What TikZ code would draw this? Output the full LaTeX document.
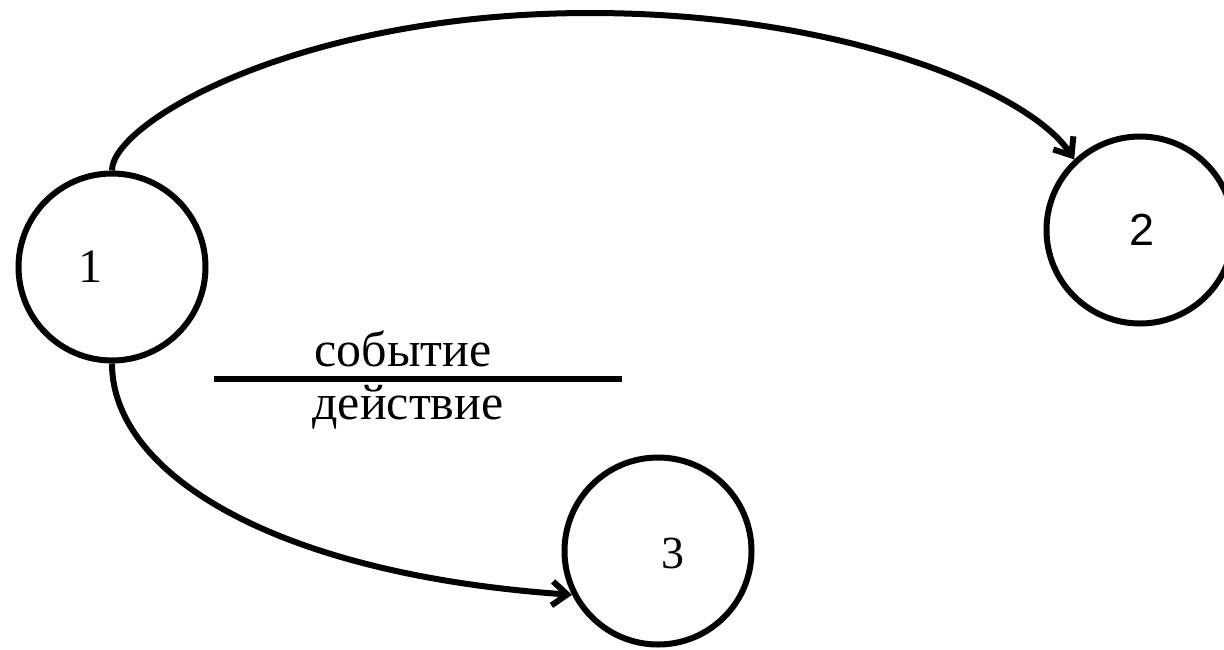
\documentclass[tikz,border=0pt]{standalone}
\usepackage{fontspec}
\setmainfont{Liberation Serif}
\newfontfamily\digsans{Liberation Sans}
\usetikzlibrary{arrows.meta}
\begin{document}
\begin{tikzpicture}[x=1pt,y=-1pt,
  state/.style={circle,draw=black,line width=6pt,minimum size=187pt,inner sep=0pt},
  numlabel/.style={font=\fontsize{48}{52}\selectfont,inner sep=0pt},
  wordlabel/.style={font=\fontsize{50}{54}\selectfont,inner sep=0pt,anchor=base},
  conn/.style={line width=6pt,-{Straight Barb[length=15pt,width=24pt]}}]
\useasboundingbox[fill=white] (0,0) rectangle (1224,649);
\node[state] (n1) at (112,267) {};
\node[state] (n2) at (1140,230) {};
\node[state] (n3) at (658,551) {};
\node[numlabel] (t1) at (90,267) {1};
\node[numlabel,font=\digsans\fontsize{45}{48}\selectfont] (t2) at (1142,230) {2};
\node[numlabel,font=\fontsize{46}{48}\selectfont] (t3) at (673,553) {3};
\draw[conn] (n1.north) .. controls (112,122) and (300,13) .. (590,13)
  .. controls (840,13) and (1029,90.6) .. (n2.133);
\draw[conn] (n1.south) .. controls (112,473) and (273,574) .. (n3.207);
\coordinate (ls) at (214,379);
\coordinate (le) at (622,379);
\draw[line width=6pt] (ls) -- (le);
\node[wordlabel] (ev) at (403,366) {событие};
\node[wordlabel] (ac) at (408,419) {действие};
\end{tikzpicture}
\end{document}
